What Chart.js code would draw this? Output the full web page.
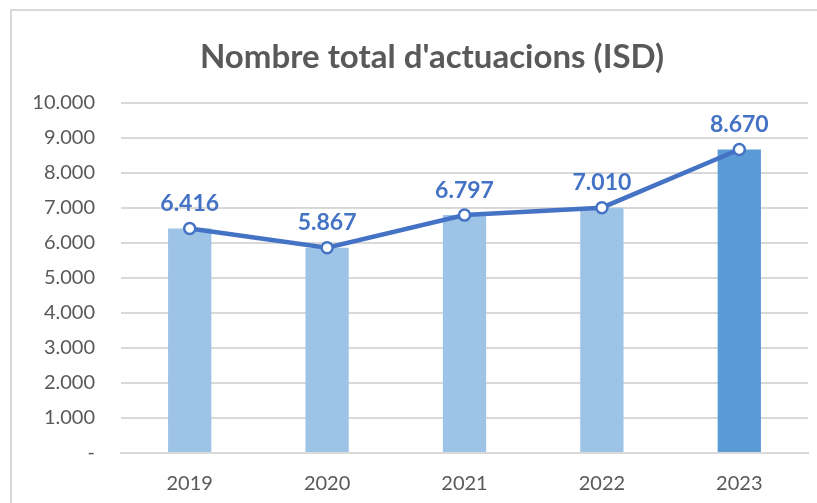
<!DOCTYPE html>
<html>
<head>
<meta charset="utf-8">
<script src="https://cdn.jsdelivr.net/npm/chart.js@4"></script>
<style>
html, body { margin: 0; padding: 0; background: #fff; }
#wrap { position: relative; width: 817px; height: 503px; overflow: hidden; }
#frame { position: absolute; left: 10px; top: 9px; width: 900px; height: 600px; border: 2px solid #d9d9d9; box-sizing: border-box; }
#myChart { position: absolute; left: 0; top: 0; }
</style>
</head>
<body>
<div id="wrap">
  <div id="frame"></div>
  <canvas id="myChart" width="817" height="503"></canvas>
</div>
<script>
// chart data
var title = "Nombre total d'actuacions (ISD)";
var labels = ['2019', '2020', '2021', '2022', '2023'];
var totals = [6416, 5867, 6797, 7010, 8670];
var barColors = ['#9dc3e6', '#9dc3e6', '#9dc3e6', '#9dc3e6', '#5b9bd5'];
var yTicks = [0, 1000, 2000, 3000, 4000, 5000, 6000, 7000, 8000, 9000, 10000];

function fmt(v) {
    if (v == 0) return '-';
    return String(v).replace(/\B(?=(\d{3})+(?!\d))/g, '.');
}

// title (the frame is wider than the window, so it is not centred on the canvas)
// and the labels over the line points
var extras = {
    id: 'extras',
    afterDraw: function(chart) {
        var ctx = chart.ctx;
        ctx.save();
        ctx.font = 'bold 33px Lato';
        ctx.fillStyle = '#595959';
        ctx.textAlign = 'center';
        ctx.textBaseline = 'middle';
        ctx.fillText(title, 432, 57);
        ctx.restore();
    },
    afterDatasetsDraw: function(chart) {
        var ctx = chart.ctx;
        var meta = chart.getDatasetMeta(1);
        ctx.save();
        ctx.font = 'bold 23px Lato';
        ctx.fillStyle = '#4472c4';
        ctx.textAlign = 'center';
        ctx.textBaseline = 'middle';
        meta.data.forEach(function(pt, i) {
            ctx.fillText(fmt(totals[i]), pt.x, pt.y - 25);
        });
        ctx.restore();
    }
};

var ctx = document.getElementById('myChart').getContext('2d');
var myChart = new Chart(ctx, {
    type: 'bar',
    data: {
        labels: labels,
        datasets: [{
            type: 'bar',
            data: totals,
            backgroundColor: barColors,
            borderWidth: 0,
            barPercentage: 0.315,
            categoryPercentage: 1,
            order: 2
        }, {
            type: 'line',
            data: totals,
            borderColor: '#4472c4',
            borderWidth: 4.5,
            pointRadius: 5.5,
            pointBorderWidth: 2.5,
            pointBackgroundColor: '#ffffff',
            pointBorderColor: '#4472c4',
            tension: 0,
            order: 1
        }]
    },
    options: {
        responsive: false,
        animation: false,
        layout: { padding: { left: 0, right: 9, top: 103, bottom: 0 } },
        plugins: {
            legend: { display: false },
            tooltip: { enabled: false },
            title: { display: false }
        },
        scales: {
            x: {
                grid: { display: false },
                border: { color: '#d9d9d9', width: 2 },
                ticks: { color: '#595959', font: { family: 'Lato', size: 20 }, padding: 11 },
                afterFit: function(s) { s.height = 50; }
            },
            y: {
                min: 0,
                max: 10000,
                afterBuildTicks: function(s) { s.ticks = yTicks.map(function(v) { return { value: v }; }); },
                grid: { color: '#d9d9d9', lineWidth: 2, drawTicks: false },
                border: { display: false },
                ticks: {
                    color: '#595959',
                    font: { family: 'Lato', size: 20 },
                    padding: 26,
                    callback: function(v) { return fmt(v); }
                },
                afterFit: function(s) { s.width = 121; }
            }
        }
    },
    plugins: [extras]
});
</script>
</body>
</html>
